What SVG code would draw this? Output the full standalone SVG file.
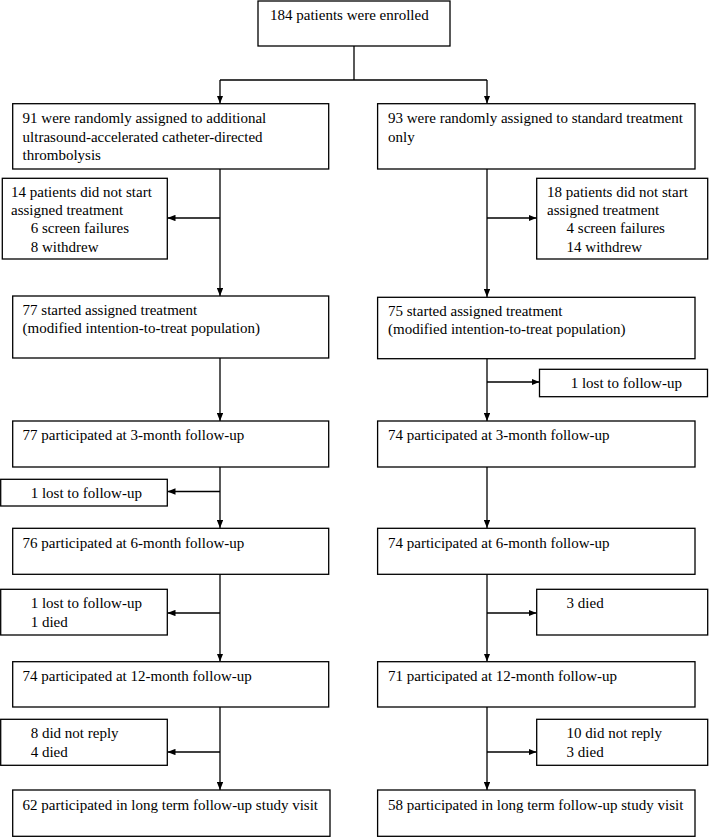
<svg xmlns="http://www.w3.org/2000/svg" width="709" height="837" viewBox="0 0 709 837">
<defs>
<marker id="ah" viewBox="0 0 10 8" refX="10" refY="4" markerWidth="8" markerHeight="6.4" markerUnits="userSpaceOnUse" orient="auto"><path d="M0,0 L10,4 L0,8 Z" fill="#000"/></marker>
<style>
rect{fill:#fff;stroke:#000;stroke-width:1.3}
text{font-family:"Liberation Serif","Times New Roman",serif;font-size:15px;fill:#000}
.c path{fill:none;stroke:#000;stroke-width:1.3}
.c .a{marker-end:url(#ah)}
</style>
</defs>
<rect x="0" y="0" width="709" height="837" style="fill:#fff;stroke:none"/>
<g class="c" id="connectors">
<path d="M354,46 V80 M220,80 H487"/>
<path class="a" d="M220,80 V103.5"/>
<path class="a" d="M487,80 V103.5"/>
<path class="a" d="M220,169 V296"/>
<path class="a" d="M220,218 H167.5"/>
<path class="a" d="M487,169 V297"/>
<path class="a" d="M487,218 H536.5"/>
<path class="a" d="M220,358 V421"/>
<path class="a" d="M487,359 V421"/>
<path class="a" d="M487,382 H539.5"/>
<path class="a" d="M220,467 V528"/>
<path class="a" d="M220,491.5 H167.5"/>
<path class="a" d="M487,467 V528"/>
<path class="a" d="M220,574 V661.5"/>
<path class="a" d="M220,613 H167.5"/>
<path class="a" d="M487,574 V661.5"/>
<path class="a" d="M487,613 H536.5"/>
<path class="a" d="M220,707 V790"/>
<path class="a" d="M220,752 H167.5"/>
<path class="a" d="M487,707 V790"/>
<path class="a" d="M487,752 H536.5"/>
</g>
<g id="enrolled"><rect x="258" y="1" width="192" height="45"/><text x="270" y="20">184 patients were enrolled</text></g>
<g id="arm-a"><rect x="12.7" y="103.7" width="316" height="65.3"/><text x="22.6" y="123">91 were randomly assigned to additional</text><text x="22.6" y="141.5">ultrasound-accelerated catheter-directed</text><text x="22.6" y="159.5">thrombolysis</text></g>
<g id="arm-b"><rect x="377.6" y="103.7" width="317.4" height="65.3"/><text x="388" y="123">93 were randomly assigned to standard treatment</text><text x="388" y="141.5">only</text></g>
<g id="excl-a"><rect x="2.3" y="178.3" width="165" height="80.7"/><text x="11" y="196.7">14 patients did not start</text><text x="11" y="215">assigned treatment</text><text x="30.7" y="233.3">6 screen failures</text><text x="30.7" y="251.7">8 withdrew</text></g>
<g id="excl-b"><rect x="536.7" y="178.3" width="171" height="80.7"/><text x="547" y="196.7">18 patients did not start</text><text x="547" y="215">assigned treatment</text><text x="566.6" y="233.3">4 screen failures</text><text x="566.6" y="251.7">14 withdrew</text></g>
<g id="mitt-a"><rect x="12.7" y="296" width="316" height="62"/><text x="22.6" y="315">77 started assigned treatment</text><text x="22.6" y="333">(modified intention-to-treat population)</text></g>
<g id="mitt-b"><rect x="377.6" y="297.3" width="317.4" height="61.4"/><text x="388" y="315.5">75 started assigned treatment</text><text x="388" y="333.5">(modified intention-to-treat population)</text></g>
<g id="lost-b1"><rect x="539.5" y="369.3" width="168" height="27.4"/><text x="570.7" y="388.3">1 lost to follow-up</text></g>
<g id="m3-a"><rect x="12.7" y="421" width="316" height="46"/><text x="22.6" y="440">77 participated at 3-month follow-up</text></g>
<g id="m3-b"><rect x="377.6" y="421" width="317.4" height="46"/><text x="388" y="440">74 participated at 3-month follow-up</text></g>
<g id="lost-a1"><rect x="0.7" y="479.3" width="166.6" height="26.7"/><text x="30.7" y="498.3">1 lost to follow-up</text></g>
<g id="m6-a"><rect x="12.7" y="528.3" width="316" height="46"/><text x="22.6" y="548">76 participated at 6-month follow-up</text></g>
<g id="m6-b"><rect x="377.6" y="528.3" width="317.4" height="46"/><text x="388" y="548">74 participated at 6-month follow-up</text></g>
<g id="lost-a2"><rect x="0.7" y="589.3" width="166.6" height="45.7"/><text x="30.7" y="608.3">1 lost to follow-up</text><text x="30.7" y="626.7">1 died</text></g>
<g id="died-b"><rect x="536.7" y="589.3" width="171" height="45.7"/><text x="566.6" y="608.3">3 died</text></g>
<g id="m12-a"><rect x="12.7" y="661.7" width="316" height="45.3"/><text x="22.6" y="680.5">74 participated at 12-month follow-up</text></g>
<g id="m12-b"><rect x="377.6" y="661.7" width="317.4" height="45.3"/><text x="388" y="680.5">71 participated at 12-month follow-up</text></g>
<g id="reply-a"><rect x="0.7" y="719.3" width="166.6" height="46"/><text x="30.7" y="738.3">8 did not reply</text><text x="30.7" y="756.7">4 died</text></g>
<g id="reply-b"><rect x="536.7" y="719.3" width="171" height="46"/><text x="566.6" y="738.3">10 did not reply</text><text x="566.6" y="756.7">3 died</text></g>
<g id="lt-a"><rect x="12.7" y="790" width="317.3" height="46.3"/><text x="22.6" y="809.5">62 participated in long term follow-up study visit</text></g>
<g id="lt-b"><rect x="377.6" y="790" width="317.4" height="46.3"/><text x="388" y="809.5">58 participated in long term follow-up study visit</text></g>
</svg>
